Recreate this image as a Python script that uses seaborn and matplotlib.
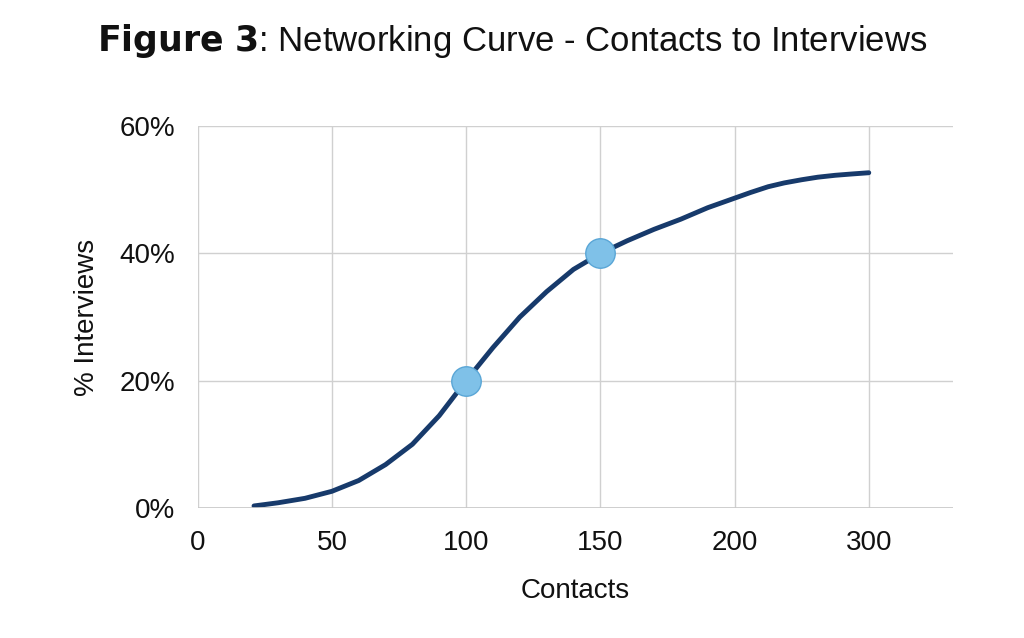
import matplotlib.pyplot as plt
import seaborn as sns
import numpy as np

contacts = [21, 30, 40, 50, 60, 70, 80, 90, 100, 110, 120, 130, 140, 150, 160, 170, 180, 190, 200,
            212, 225, 237, 250, 262, 275, 287, 300]
interviews = [0.3, 0.8, 1.5, 2.6, 4.3, 6.8, 10.0, 14.5, 20, 25.2, 30.0, 34.0, 37.5, 40, 42.0, 43.8,
              45.4, 47.2, 48.7, 49.6, 50.5, 51.1, 51.6, 52.0, 52.3, 52.5, 52.7]
marker_contacts = [100, 150]
marker_values = [20, 40]
tick_labels = [0, 50, 100, 150, 200, 300]


def to_pos(c):
    # axis is evenly spaced per tick, last step jumps 200 -> 300
    return np.interp(c, [0, 200, 300], [0, 4, 5])


sns.set_theme(style="whitegrid")
plt.rcParams['font.family'] = ['Liberation Sans', 'DejaVu Sans']

fig = plt.figure(figsize=(10.24, 6.38), dpi=100)
ax = fig.add_axes([0.193, 0.204, 0.738, 0.598])

sns.lineplot(x=to_pos(contacts), y=interviews, ax=ax, color="#173a6b", linewidth=3.5,
             solid_capstyle="round", solid_joinstyle="round")
sns.scatterplot(x=to_pos(marker_contacts), y=marker_values, ax=ax, color="#7fc1e8",
                s=450, edgecolor="#5aa6d6", linewidth=1, zorder=5)

ax.set_xlim(0, 5.63)
ax.set_ylim(0, 60)
ax.set_xticks(to_pos(tick_labels))
ax.set_xticklabels([str(t) for t in tick_labels])
ax.set_yticks([0, 20, 40, 60])
ax.set_yticklabels([f"{v}%" for v in [0, 20, 40, 60]])
ax.tick_params(labelsize=20, colors="#111111", pad=10)
ax.grid(color="#d0d0d0", linewidth=1)
for s in ax.spines.values():
    s.set_visible(False)
ax.axhline(0, color="#c8c8c8", linewidth=1.2)
ax.set_xlabel("Contacts", fontsize=20, labelpad=16, color="#111111")
ax.set_ylabel("% Interviews", fontsize=20, labelpad=14, color="#111111")

fig.text(0.5, 0.935, r"$\bf{Figure\ 3}$: Networking Curve - Contacts to Interviews",
         ha="center", va="center", fontsize=25, color="#111111")

fig.savefig("out.png", dpi=100)
